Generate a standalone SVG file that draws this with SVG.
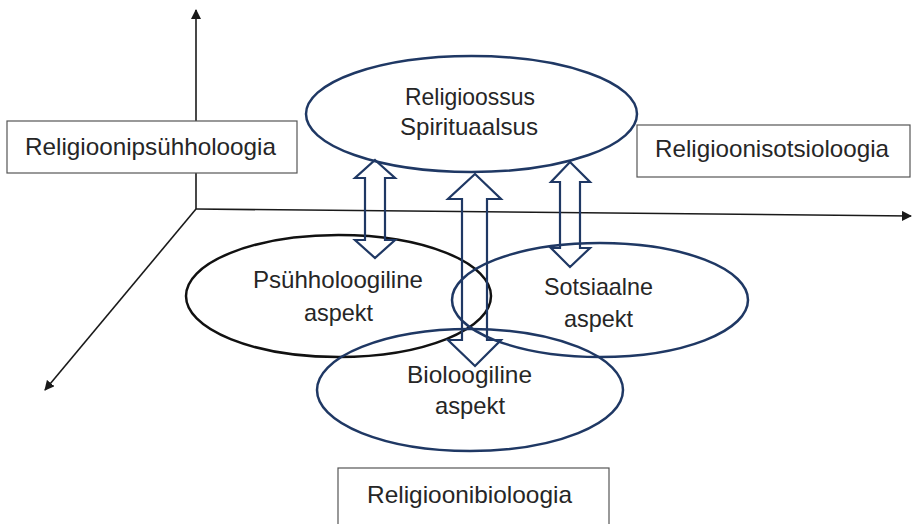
<svg xmlns="http://www.w3.org/2000/svg" width="912" height="524" viewBox="0 0 912 524">
<defs>
<marker id="ah" markerWidth="10" markerHeight="10" viewBox="0 0 10 10" refX="9" refY="5" orient="auto" markerUnits="userSpaceOnUse">
<path d="M0,0 L10,5 L0,10 Z" fill="#1a1a1a"/>
</marker>
<style>
.axis{stroke:#1a1a1a;stroke-width:1.6;fill:none}
.box{fill:#fff;stroke:#555;stroke-width:1.2}
.ell{fill:none;stroke:#1f3864;stroke-width:2.5}
.ellb{fill:none;stroke:#111;stroke-width:2.5}
.barrow{fill:none;stroke:#1f3864;stroke-width:2.2}
.t{font-family:"Liberation Sans",Arial,sans-serif;font-size:24px;fill:#262626}
.c{text-anchor:middle}
</style>
</defs>
<rect width="912" height="524" fill="#fff"/>
<g id="axes">
<line class="axis" x1="196" y1="209" x2="196" y2="10" marker-end="url(#ah)"/>
<line class="axis" x1="196" y1="209" x2="911" y2="216" marker-end="url(#ah)"/>
<line class="axis" x1="196" y1="209" x2="45" y2="390" marker-end="url(#ah)"/>
</g>
<g id="box-psy">
<rect class="box" x="7" y="121" width="290" height="52"/>
<text class="t" x="25" y="155" textLength="251" lengthAdjust="spacingAndGlyphs">Religioonipsühholoogia</text>
</g>
<g id="box-soc">
<rect class="box" x="637" y="125" width="273" height="52"/>
<text class="t" x="655" y="157" textLength="234" lengthAdjust="spacingAndGlyphs">Religioonisotsioloogia</text>
</g>
<g id="box-bio">
<rect class="box" x="338" y="468" width="271" height="62"/>
<text class="t" x="367" y="503" textLength="205" lengthAdjust="spacingAndGlyphs">Religioonibioloogia</text>
</g>
<g id="node-rel">
<ellipse class="ell" cx="471.5" cy="114" rx="165.5" ry="58"/>
<text class="t c" x="470" y="105" textLength="130" lengthAdjust="spacingAndGlyphs">Religioossus</text>
<text class="t c" x="469" y="135" textLength="138" lengthAdjust="spacingAndGlyphs">Spirituaalsus</text>
</g>
<g id="node-psy">
<ellipse class="ellb" cx="338.5" cy="296" rx="152.5" ry="61"/>
<text class="t c" x="338" y="288" textLength="170" lengthAdjust="spacingAndGlyphs">Psühholoogiline</text>
<text class="t c" x="338.5" y="321" textLength="69" lengthAdjust="spacingAndGlyphs">aspekt</text>
</g>
<g id="node-soc">
<ellipse class="ell" cx="600" cy="300" rx="148" ry="57"/>
<text class="t c" x="598.5" y="295" textLength="109" lengthAdjust="spacingAndGlyphs">Sotsiaalne</text>
<text class="t c" x="598.5" y="327" textLength="69" lengthAdjust="spacingAndGlyphs">aspekt</text>
</g>
<g id="node-bio">
<ellipse class="ell" cx="470" cy="390" rx="153" ry="61"/>
<text class="t c" x="469.5" y="383" textLength="125" lengthAdjust="spacingAndGlyphs">Bioloogiline</text>
<text class="t c" x="470" y="414" textLength="70" lengthAdjust="spacingAndGlyphs">aspekt</text>
</g>
<g id="connectors">
<polygon class="barrow" points="375,160 395,178 385,178 385,240 395,240 375,258 355,240 365,240 365,178 355,178"/>
<polygon class="barrow" points="475,174 501,199 487,199 487,340 501,340 475,366 448,340 462,340 462,199 448,199"/>
<polygon class="barrow" points="570,162 590,182 580,182 580,248 590,248 570,267 551,248 560,248 560,182 551,182"/>
</g>
</svg>
